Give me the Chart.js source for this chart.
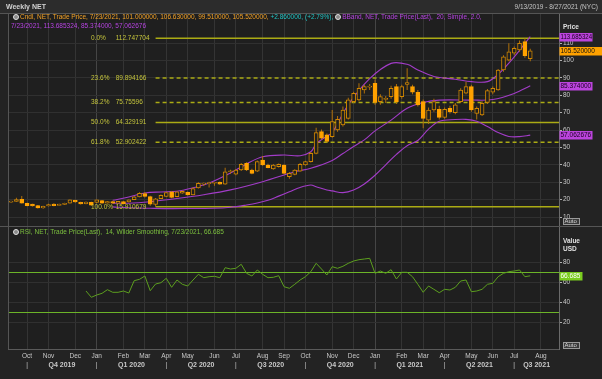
<!DOCTYPE html>
<html>
<head>
<meta charset="utf-8">
<title>Weekly NET</title>
<script src="https://cdn.jsdelivr.net/npm/chart.js@4.4.1/dist/chart.umd.min.js"></script>
<style>
  html, body { margin: 0; padding: 0; background: #222; }
  #wrap { position: relative; width: 602px; height: 379px; overflow: hidden; font-family: "Liberation Sans", Arial, sans-serif; }
  #chart { position: absolute; left: 0; top: 0; }
  .txt { position: absolute; white-space: pre; font-size: 6.5px; line-height: 8px; }
  .ico { display: inline-block; width: 4px; height: 4px; border-radius: 50%; background: #8a8a8a; border: 1px solid #e0e0e0; margin-right: 1px; vertical-align: -1px; }
</style>
</head>
<body>
<div id="wrap">
  <canvas id="chart" width="602" height="379"></canvas>
  <div class="txt" id="title" style="left:6px;top:3px;font-size:7px;font-weight:bold;color:#d2d2d2">Weekly NET</div>
  <div class="txt" id="range" style="right:4px;top:3px;color:#c4c4c4"></div>
  <div class="txt" id="leg1" style="left:13px;top:13px"></div>
  <div class="txt" id="leg2" style="left:11px;top:21.5px;color:#b543e0"></div>
  <div class="txt" id="leg3" style="left:13px;top:228px;color:#7cc03e"></div>
</div>
<script>
// weekly bars, first bar Fri 13 Sep 2019, last bar Fri 23 Jul 2021
const firstBar = [2019, 8, 13];
const rangeLabel = '9/13/2019 - 8/27/2021 (NYC)';
const xMin = -4, xMax = 716.6; // days from first bar

const opens = [18.5, 19.0, 20.2, 17.9, 17.4, 16.6, 15.2, 16.3, 17.4, 16.6,
  17.3, 17.9, 19.6, 18.4, 17.6, 18.4, 18.4, 19.4, 17.9, 18.9,
  17.9, 18.9, 18.6, 20.0, 21.6, 23.5, 21.7, 17.2, 20.6, 21.8,
  24.4, 21.7, 23.7, 24.2, 22.7, 26.7, 28.9, 29.2, 29.4, 29.9,
  28.9, 36.0, 34.6, 37.0, 40.8, 37.0, 36.4, 42.7, 39.9, 37.6,
  38.9, 39.9, 33.2, 34.5, 36.4, 39.9, 41.8, 46.6, 59.1, 57.2,
  56.2, 60.0, 62.9, 66.7, 76.3, 77.3, 83.0, 84.6, 86.8, 76.3,
  77.6, 79.2, 84.9, 79.2, 86.2, 84.9, 81.7, 76.3, 65.7, 71.5,
  71.9, 67.3, 72.5, 70.0, 76.3, 81.1, 84.9, 69.6, 68.6, 75.8,
  81.7, 83.0, 94.5, 100.2, 104.1, 106.0, 110.8, 101.0];
const highs = [19.4, 21.0, 22.1, 18.2, 17.6, 16.9, 16.5, 17.6, 17.9, 17.6,
  18.2, 20.0, 19.9, 18.8, 18.9, 18.7, 20.0, 19.8, 19.1, 19.3,
  19.2, 19.1, 20.0, 22.0, 24.2, 24.4, 22.2, 20.9, 23.0, 24.5,
  25.0, 24.8, 25.2, 24.6, 26.9, 30.0, 29.9, 30.3, 30.0, 30.4,
  38.3, 37.2, 37.6, 41.0, 41.5, 37.8, 42.5, 45.0, 40.6, 40.5,
  40.8, 40.3, 35.8, 37.5, 41.0, 42.4, 47.3, 61.3, 60.3, 58.0,
  71.5, 68.0, 73.5, 78.5, 82.0, 86.8, 86.0, 86.5, 89.0, 80.5,
  79.5, 85.5, 86.5, 86.0, 95.5, 86.0, 83.0, 77.5, 73.0, 78.0,
  74.0, 73.0, 74.0, 75.5, 84.0, 87.8, 86.0, 73.5, 76.5, 83.5,
  85.0, 95.0, 103.0, 109.8, 108.0, 111.5, 112.75, 106.63];
const lows = [18.2, 18.7, 17.7, 16.2, 16.0, 14.9, 14.8, 16.0, 16.2, 16.4,
  17.0, 17.7, 18.2, 17.2, 17.3, 16.5, 18.1, 17.6, 17.7, 17.6,
  17.6, 17.3, 18.4, 19.8, 21.3, 21.2, 16.5, 15.91, 20.3, 21.5,
  20.8, 21.4, 23.3, 22.3, 22.5, 26.4, 27.8, 27.0, 28.0, 28.5,
  28.5, 34.8, 34.0, 36.5, 36.5, 34.6, 35.9, 39.5, 38.0, 37.2,
  38.5, 34.6, 32.0, 34.0, 36.0, 39.5, 41.3, 46.0, 54.5, 52.8,
  55.5, 59.0, 62.0, 66.0, 75.5, 76.5, 81.0, 83.0, 74.5, 74.5,
  75.5, 78.0, 75.0, 78.0, 83.0, 80.5, 73.5, 61.0, 63.5, 70.5,
  66.0, 66.5, 69.5, 69.0, 75.5, 80.5, 70.5, 66.0, 68.0, 75.0,
  80.5, 82.5, 93.5, 99.5, 103.0, 105.0, 101.5, 99.51];
const closes = [19.1, 20.0, 17.9, 16.5, 16.3, 15.2, 16.2, 17.2, 16.5, 17.4,
  17.9, 19.8, 18.6, 17.5, 18.6, 16.8, 19.8, 17.9, 18.8, 17.9,
  19.0, 17.6, 19.8, 21.6, 23.6, 21.8, 17.4, 20.5, 22.5, 24.1,
  21.3, 24.4, 24.8, 22.7, 26.4, 29.4, 29.1, 29.4, 29.6, 28.9,
  36.0, 36.2, 37.0, 40.3, 37.0, 35.1, 41.8, 39.9, 38.4, 39.9,
  40.3, 35.1, 35.1, 37.0, 40.3, 41.8, 46.6, 58.5, 55.3, 53.4,
  64.8, 66.1, 71.5, 77.3, 81.1, 84.0, 84.9, 85.2, 75.8, 79.2,
  78.2, 84.0, 76.3, 84.9, 87.2, 81.7, 74.4, 66.7, 71.5, 76.3,
  67.3, 71.9, 70.6, 74.4, 83.0, 84.9, 71.5, 72.5, 75.4, 82.6,
  84.0, 94.5, 102.1, 105.0, 106.9, 109.8, 102.66, 105.52];

// Bollinger band (20, 2.0) at these weeks
const bbUpperWeeks = [19, 22, 25, 28, 31, 34, 37, 41, 44, 47, 51, 54, 56, 57, 59, 60, 63, 67, 71, 74, 76, 79, 83, 86, 89, 91, 94, 97];
const bbUpper = [19.6, 21.5, 23.8, 24.4, 24.8, 26.8, 29.5, 35.3, 40.5, 44.6, 45.6, 45.2, 47.5, 52.0, 56.5, 58.5, 74.5, 89.5, 98.3, 97.8, 94.5, 90.8, 89.2, 87.8, 87.8, 92.0, 102.0, 113.685324];
const bbMidWeeks = [19, 22, 26, 31, 36, 41, 47, 53, 56, 60, 62, 64, 66, 68, 71, 74, 77, 80, 86, 90, 94, 97];
const bbMid = [18.0, 17.9, 18.8, 20.6, 22.8, 25.6, 30.3, 36.0, 38.0, 42.5, 46.5, 50.5, 54.3, 59.5, 65.7, 72.5, 75.8, 77.2, 77.2, 77.5, 81.0, 85.374];
const bbLowWeeks = [19, 22, 26, 30, 34, 38, 41, 44, 46, 48, 50, 52, 54, 56, 57, 59, 60, 62, 64, 66, 68, 70, 72, 74, 76, 78, 80, 83, 85, 87, 89, 91, 93, 95, 97];
const bbLow = [15.8, 15.3, 15.0, 14.8, 14.9, 15.0, 15.6, 16.9, 18.0, 19.6, 22.0, 24.5, 27.0, 28.4, 27.4, 25.5, 25.0, 24.0, 25.5, 29.0, 34.0, 40.0, 46.0, 51.0, 54.0, 60.5, 65.0, 66.0, 66.1, 65.0, 62.0, 58.5, 56.3, 56.2, 57.062676];

// RSI (14, Wilder) from week 14 on
const rsiFirstWeek = 14;
const rsi = [51.5, 45.2, 47.5, 49.2, 52.8, 50.2, 50.2, 51.5, 49.5, 61.8,
  63.2, 66.5, 51.8, 58.5, 59.8, 64.2, 55.2, 62.5, 58.2, 56.5,
  62.5, 68.2, 64.8, 65.8, 66.2, 64.8, 74.8, 73.5, 74.2, 78.2,
  69.2, 66.5, 72.5, 68.2, 64.8, 65.2, 66.8, 55.8, 54.2, 58.2,
  62.5, 65.8, 70.8, 79.2, 73.5, 67.5, 75.8, 74.2, 76.2, 79.2,
  81.5, 82.8, 83.5, 84.2, 69.2, 71.5, 69.2, 72.8, 63.5, 70.2,
  70.2, 65.8, 58.2, 50.2, 56.5, 53.2, 49.8, 53.2, 52.5, 55.2,
  61.5, 62.5, 50.8, 51.5, 53.2, 58.2, 59.2, 65.8, 69.2, 70.8,
  71.5, 72.5, 65.8, 66.685];
const rsiLevels = [70, 30];

// fibonacci retracement from the March 2020 low
const fibPct = ['0.0%', '23.6%', '38.2%', '50.0%', '61.8%', '100.0%'];
const fibValues = [112.747704, 89.894166, 75.75596, 64.329191, 52.902422, 15.910679];
const fibDashed = [false, true, true, false, true, false];
const fibFromWeek = 27;

const priceTicks = [10, 20, 30, 40, 50, 60, 70, 80, 90, 100, 110];
const rsiTicks = [20, 40, 60, 80];
const monthNames = ['Jan', 'Feb', 'Mar', 'Apr', 'May', 'Jun', 'Jul', 'Aug', 'Sep', 'Oct', 'Nov', 'Dec'];

const FONT = '"Liberation Sans", Arial, sans-serif';
const PLOT_BG = '#1f1f1f';
const ORANGE = '#ffa200';
const HOLLOW = '#d08600';
const WICK = '#b0700a';
const PURPLE = '#a23cc8';
const FIB = '#abab14';
const FIB_TXT = '#c4c43c';
const RSI_COL = '#5c9e1e';
const RSI_LVL = '#6cb428';
const GRID = '#303030';
const TXT = '#c8c8c8';

// x axis: month labels at the first bar of each month, quarters centred between quarter starts
const monthStarts = [];
let prevMonth = null;
for (let w = 0; w * 7 <= xMax; w++) {
  const d = new Date(Date.UTC(firstBar[0], firstBar[1], firstBar[2] + w * 7));
  const m = d.getUTCMonth();
  if (prevMonth !== null && m !== prevMonth) monthStarts.push({v: w * 7, m: m, y: d.getUTCFullYear()});
  prevMonth = m;
}
const tickVals = [], tickLabels = [], tickQuarter = [], tickYear = [];
monthStarts.forEach(t => {
  tickVals.push(t.v);
  tickLabels.push([monthNames[t.m], t.m % 3 === 0 ? '|' : '']);
  tickQuarter.push(false);
  tickYear.push(t.m === 0);
});
const qStarts = monthStarts.filter(t => t.m % 3 === 0);
qStarts.forEach((t, k) => {
  const end = k + 1 < qStarts.length ? qStarts[k + 1].v : xMax;
  tickVals.push((t.v + end) / 2);
  tickLabels.push(['', 'Q' + (t.m / 3 + 1) + ' ' + t.y]);
  tickQuarter.push(true);
  tickYear.push(false);
});

// header texts
const last = opens.length - 1;
const lastDay = new Date(Date.UTC(firstBar[0], firstBar[1], firstBar[2] + last * 7));
const lastDate = (lastDay.getUTCMonth() + 1) + '/' + lastDay.getUTCDate() + '/' + lastDay.getUTCFullYear();
const chg = closes[last] - closes[last - 1];
const chgPct = chg / closes[last - 1] * 100;
document.getElementById('range').textContent = rangeLabel;
document.getElementById('leg1').innerHTML =
  '<span class="ico"></span><span style="color:#f2a126">Cndl, NET, Trade Price, ' + lastDate + ', ' +
  opens[last].toFixed(6) + ', ' + highs[last].toFixed(6) + ', ' + lows[last].toFixed(6) + ', ' +
  closes[last].toFixed(6) + ', </span><span style="color:#22c4c4">+' + chg.toFixed(6) + ', (+' +
  chgPct.toFixed(2) + '%), </span><span class="ico"></span><span style="color:#b543e0">BBand, NET, Trade Price(Last),  20, Simple, 2.0,</span>';
document.getElementById('leg2').textContent = lastDate + ', ' + bbUpper[bbUpper.length - 1].toFixed(6) + ', ' +
  bbMid[bbMid.length - 1].toFixed(6) + ', ' + bbLow[bbLow.length - 1].toFixed(6);
document.getElementById('leg3').innerHTML = '<span class="ico"></span>RSI, NET, Trade Price(Last),  14, Wilder Smoothing, ' +
  lastDate + ', ' + rsi[rsi.length - 1].toFixed(3);

const pts = (weeks, vals) => weeks.map((w, k) => ({x: w * 7, y: vals[k]}));
const isUp = i => closes[i] >= opens[i];

const datasets = [
  {
    type: 'bar', label: 'body', yAxisID: 'y', order: 0,
    data: opens.map((o, i) => ({x: i * 7, y: [o, closes[i]]})),
    barThickness: 4, grouped: false, borderSkipped: false, borderWidth: 1, minBarLength: 1,
    backgroundColor: ctx => isUp(ctx.dataIndex) ? PLOT_BG : ORANGE,
    borderColor: ctx => isUp(ctx.dataIndex) ? HOLLOW : ORANGE
  },
  {
    type: 'bar', label: 'wick', yAxisID: 'y', order: 1,
    data: lows.map((l, i) => ({x: i * 7, y: [l, highs[i]]})),
    barThickness: 1, grouped: false, borderWidth: 0, inflateAmount: 0, backgroundColor: WICK
  },
  {type: 'line', label: 'BB upper', yAxisID: 'y', order: 3, data: pts(bbUpperWeeks, bbUpper),
    borderColor: PURPLE, borderWidth: 1.1, pointRadius: 0, tension: 0.35},
  {type: 'line', label: 'BB mid', yAxisID: 'y', order: 3, data: pts(bbMidWeeks, bbMid),
    borderColor: PURPLE, borderWidth: 1.1, pointRadius: 0, tension: 0.35},
  {type: 'line', label: 'BB lower', yAxisID: 'y', order: 3, data: pts(bbLowWeeks, bbLow),
    borderColor: PURPLE, borderWidth: 1.1, pointRadius: 0, tension: 0.35},
  {type: 'line', label: 'RSI', yAxisID: 'y2', order: 2,
    data: rsi.map((v, k) => ({x: (rsiFirstWeek + k) * 7, y: v})),
    borderColor: RSI_COL, borderWidth: 1, pointRadius: 0, tension: 0}
];
fibValues.forEach((v, k) => datasets.push({
  type: 'line', label: 'Fib ' + fibPct[k], yAxisID: 'y', order: 4,
  data: [{x: fibFromWeek * 7, y: v}, {x: xMax, y: v}],
  borderColor: FIB, borderWidth: 1.5, borderDash: fibDashed[k] ? [4, 3] : [], pointRadius: 0
}));
rsiLevels.forEach(v => datasets.push({
  type: 'line', label: 'RSI ' + v, yAxisID: 'y2', order: 5,
  data: [{x: xMin, y: v}, {x: xMax, y: v}],
  borderColor: RSI_LVL, borderWidth: 1.2, pointRadius: 0
}));

function valueBox(ctx, y, text, bg, fg, w) {
  ctx.fillStyle = bg;
  ctx.fillRect(559.5, Math.round(y) - 4, w, 8.5);
  ctx.fillStyle = fg;
  ctx.font = '6.5px ' + FONT;
  ctx.textAlign = 'left';
  ctx.textBaseline = 'middle';
  ctx.fillText(text, 560.5, Math.round(y) + 0.3, w - 1.5);
}
function autoBox(ctx, y) {
  ctx.fillStyle = '#3a3a3a';
  ctx.fillRect(563, y, 17, 7);
  ctx.strokeStyle = '#9a9a9a';
  ctx.lineWidth = 1;
  ctx.strokeRect(563.5, y + 0.5, 16, 6);
  ctx.fillStyle = '#d8d8d8';
  ctx.font = '6px ' + FONT;
  ctx.textAlign = 'left';
  ctx.textBaseline = 'middle';
  ctx.fillText('Auto', 564.5, y + 3.8);
}

const decor = {
  id: 'decor',
  beforeDraw(chart) {
    const {ctx, chartArea: a} = chart;
    ctx.save();
    ctx.fillStyle = '#232323';
    ctx.fillRect(0, 0, chart.width, chart.height);
    ctx.fillStyle = '#2c2c2c';
    ctx.fillRect(0, 0, chart.width, 13);
    ctx.fillStyle = PLOT_BG;
    ctx.fillRect(a.left, a.top, a.right - a.left, a.bottom - a.top);
    ctx.restore();
  },
  afterDatasetsDraw(chart) {
    const ctx = chart.ctx, ys = chart.scales.y;
    ctx.save();
    ctx.font = '6.5px ' + FONT;
    ctx.fillStyle = FIB_TXT;
    ctx.textBaseline = 'middle';
    ctx.textAlign = 'left';
    fibValues.forEach((v, k) => {
      const y = ys.getPixelForValue(v);
      ctx.fillText(fibPct[k], 91, y);
      ctx.fillText(String(v), 115.7, y);
    });
    ctx.restore();
  },
  afterDraw(chart) {
    const {ctx, chartArea: a} = chart;
    const ys = chart.scales.y, ys2 = chart.scales.y2;
    ctx.save();
    ctx.strokeStyle = '#555';
    ctx.lineWidth = 1;
    ctx.beginPath();
    ctx.moveTo(0, 13.5); ctx.lineTo(chart.width, 13.5);
    ctx.moveTo(0, Math.round(ys.bottom) + 0.5); ctx.lineTo(chart.width, Math.round(ys.bottom) + 0.5);
    ctx.moveTo(a.left + 0.5, a.top); ctx.lineTo(a.left + 0.5, a.bottom);
    ctx.stroke();

    valueBox(ctx, ys.getPixelForValue(bbUpper[bbUpper.length - 1]), bbUpper[bbUpper.length - 1].toFixed(6), '#bb44dd', '#1c0022', 33);
    valueBox(ctx, ys.getPixelForValue(closes[last]), closes[last].toFixed(6), ORANGE, '#111', 42.5);
    valueBox(ctx, ys.getPixelForValue(bbMid[bbMid.length - 1]), bbMid[bbMid.length - 1].toFixed(6), '#bb44dd', '#1c0022', 33);
    valueBox(ctx, ys.getPixelForValue(bbLow[bbLow.length - 1]), bbLow[bbLow.length - 1].toFixed(6), '#bb44dd', '#1c0022', 33);
    valueBox(ctx, ys2.getPixelForValue(rsi[rsi.length - 1]), rsi[rsi.length - 1].toFixed(3), '#7acc1e', '#ffffff', 23);

    ctx.fillStyle = '#e0e0e0';
    ctx.font = 'bold 6.5px ' + FONT;
    ctx.textAlign = 'left';
    ctx.textBaseline = 'middle';
    ctx.fillText('Price', 563, 27);
    ctx.fillText('Value', 563, 241);
    ctx.fillText('USD', 563, 249.5);
    autoBox(ctx, Math.round(ys.bottom) - 8);
    autoBox(ctx, Math.round(ys2.bottom) - 7);
    ctx.restore();
  }
};

new Chart(document.getElementById('chart'), {
  type: 'bar',
  data: {datasets: datasets},
  options: {
    responsive: false,
    animation: false,
    devicePixelRatio: 1,
    layout: {padding: {left: 8, top: 14, right: 0, bottom: 0}},
    plugins: {legend: {display: false}, tooltip: {enabled: false}},
    scales: {
      x: {
        type: 'linear', min: xMin, max: xMax, offset: false,
        afterBuildTicks: s => { s.ticks = tickVals.map(v => ({value: v})); },
        afterFit: s => { s.height = 30; },
        grid: {
          offset: false, drawTicks: false,
          color: ctx => tickQuarter[ctx.index] ? 'rgba(0,0,0,0)' : (tickYear[ctx.index] ? '#454545' : '#343434')
        },
        border: {color: '#5a5a5a'},
        ticks: {
          autoSkip: false, maxRotation: 0, padding: 3, color: TXT,
          callback: (v, i) => tickLabels[i],
          font: ctx => ({family: FONT, size: tickQuarter[ctx.index] ? 7 : 6.5,
            weight: tickQuarter[ctx.index] ? 'bold' : 'normal', lineHeight: '8.5px'})
        }
      },
      y: {
        type: 'linear', position: 'right', stack: 'panes', stackWeight: 212,
        min: 4.83, max: 126.67,
        afterBuildTicks: s => { s.ticks = priceTicks.map(v => ({value: v})); },
        afterFit: s => { s.width = 43; },
        grid: {color: GRID, tickColor: '#b0b0b0', tickLength: 3},
        border: {color: '#6a6a6a'},
        ticks: {color: TXT, padding: 1, font: {family: FONT, size: 6.5}}
      },
      y2: {
        type: 'linear', position: 'right', stack: 'panes', stackWeight: 123,
        min: -6.5, max: 116.5,
        afterBuildTicks: s => { s.ticks = rsiTicks.map(v => ({value: v})); },
        afterFit: s => { s.width = 43; },
        grid: {color: GRID, tickColor: '#b0b0b0', tickLength: 3},
        border: {color: '#6a6a6a'},
        ticks: {color: TXT, padding: 1, font: {family: FONT, size: 6.5}}
      }
    }
  },
  plugins: [decor]
});
</script>
</body>
</html>
